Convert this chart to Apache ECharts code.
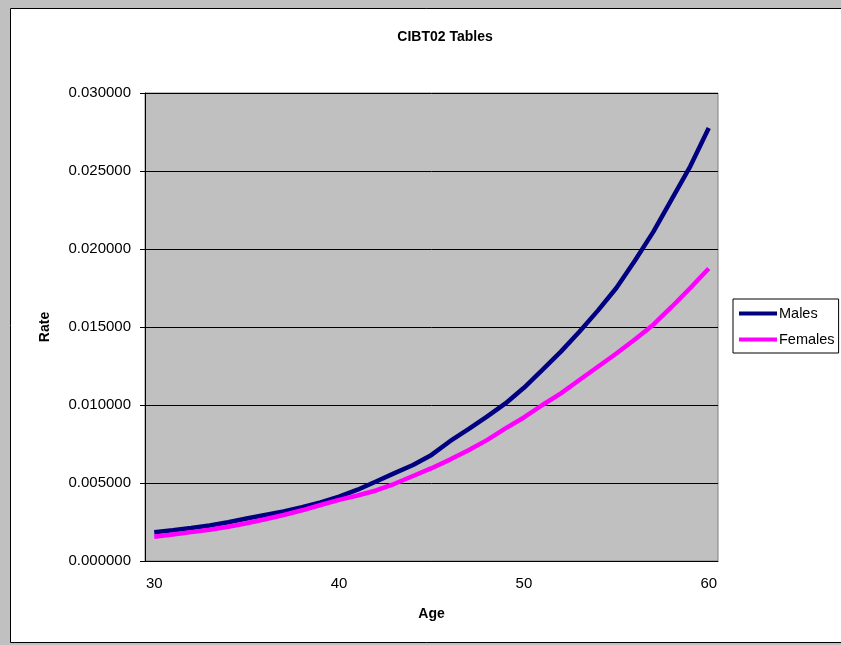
<!DOCTYPE html>
<html>
<head>
<meta charset="utf-8">
<script src="https://cdn.jsdelivr.net/npm/echarts@6/dist/echarts.min.js"></script>
<style>
  html, body { margin: 0; padding: 0; background: #c0c0c0; }
  #chart { width: 841px; height: 645px; }
</style>
</head>
<body>
<div id="chart"></div>
<script>
// Ages 30..60, one category per year
const ages = [];
for (let a = 30; a <= 60; a++) ages.push(String(a));

// Annual rates by age
const males = [
  0.00185, 0.00197, 0.00211, 0.00227, 0.00248, 0.00272, 0.00295, 0.00318, 0.00345, 0.00376,
  0.00413, 0.00457, 0.00510, 0.00563, 0.00615, 0.00680, 0.00768, 0.00845, 0.00925, 0.01010,
  0.01110, 0.01225, 0.01342, 0.01470, 0.01605, 0.01750, 0.01925, 0.02110, 0.02320, 0.02530,
  0.02775
];
const females = [
  0.00156, 0.00170, 0.00185, 0.00200, 0.00220, 0.00242, 0.00268, 0.00295, 0.00325, 0.00359,
  0.00392, 0.00420, 0.00452, 0.00495, 0.00545, 0.00595, 0.00650, 0.00710, 0.00775, 0.00850,
  0.00920, 0.01000, 0.01075, 0.01160, 0.01245, 0.01330, 0.01420, 0.01515, 0.01630, 0.01750,
  0.01875
];

const yTicks = { min: 0, max: 0.03, interval: 0.005 };
const seriesNames = ['Males', 'Females'];
const seriesColors = ['#000080', '#ff00ff'];

const FONT = 'Liberation Sans, Arial, sans-serif';
const chart = echarts.init(document.getElementById('chart'), null, { renderer: 'canvas' });

chart.setOption({
  backgroundColor: '#c0c0c0',
  animation: false,
  graphic: [{
    type: 'rect',
    z: -10,
    silent: true,
    shape: { x: 10.5, y: 8.5, width: 840, height: 634 },
    style: { fill: '#ffffff', stroke: '#000000', lineWidth: 1 }
  }],
  title: {
    text: 'CIBT02 Tables',
    left: 440,
    top: 25,
    textAlign: 'center',
    textStyle: { fontFamily: FONT, fontSize: 14, fontWeight: 'bold', color: '#000' }
  },
  legend: {
    orient: 'vertical',
    left: 733,
    top: 299,
    width: 107,
    padding: [7, 4, 6, 6],
    itemGap: 11,
    itemWidth: 38,
    itemHeight: 4,
    icon: 'rect',
    borderColor: '#000',
    borderWidth: 1,
    backgroundColor: '#fff',
    borderRadius: 0,
    textStyle: { fontFamily: FONT, fontSize: 14.5, color: '#000', padding: [0, 0, 0, -3] },
    data: seriesNames
  },
  grid: {
    show: true,
    left: 145,
    top: 93,
    width: 573,
    height: 468,
    backgroundColor: '#c0c0c0',
    borderColor: '#808080',
    borderWidth: 1
  },
  xAxis: {
    type: 'category',
    data: ages,
    boundaryGap: true,
    name: 'Age',
    nameLocation: 'middle',
    nameGap: 46,
    nameTextStyle: { fontFamily: FONT, fontSize: 14, fontWeight: 'bold', color: '#000' },
    axisLine: { lineStyle: { color: '#000', width: 1 } },
    axisTick: { interval: 4, length: 5, lineStyle: { color: '#000' } },
    axisLabel: { interval: 9, fontFamily: FONT, fontSize: 15, color: '#000', margin: 15 },
    splitLine: { show: false }
  },
  yAxis: {
    type: 'value',
    min: yTicks.min,
    max: yTicks.max,
    interval: yTicks.interval,
    name: 'Rate',
    nameLocation: 'middle',
    nameGap: 93,
    nameRotate: 90,
    nameTextStyle: { fontFamily: FONT, fontSize: 14, fontWeight: 'bold', color: '#000' },
    axisLine: { show: true, lineStyle: { color: '#000', width: 1 } },
    axisTick: { show: true, length: 5, lineStyle: { color: '#000' } },
    axisLabel: {
      fontFamily: FONT, fontSize: 15, color: '#000', margin: 14,
      formatter: v => v.toFixed(6)
    },
    splitLine: { show: true, lineStyle: { color: '#000', width: 1 } }
  },
  series: [
    {
      name: seriesNames[0], type: 'line', data: males, symbol: 'none',
      itemStyle: { color: seriesColors[0] },
      lineStyle: { color: seriesColors[0], width: 4.5 }
    },
    {
      name: seriesNames[1], type: 'line', data: females, symbol: 'none',
      itemStyle: { color: seriesColors[1] },
      lineStyle: { color: seriesColors[1], width: 4.5 }
    }
  ]
});
</script>
</body>
</html>
